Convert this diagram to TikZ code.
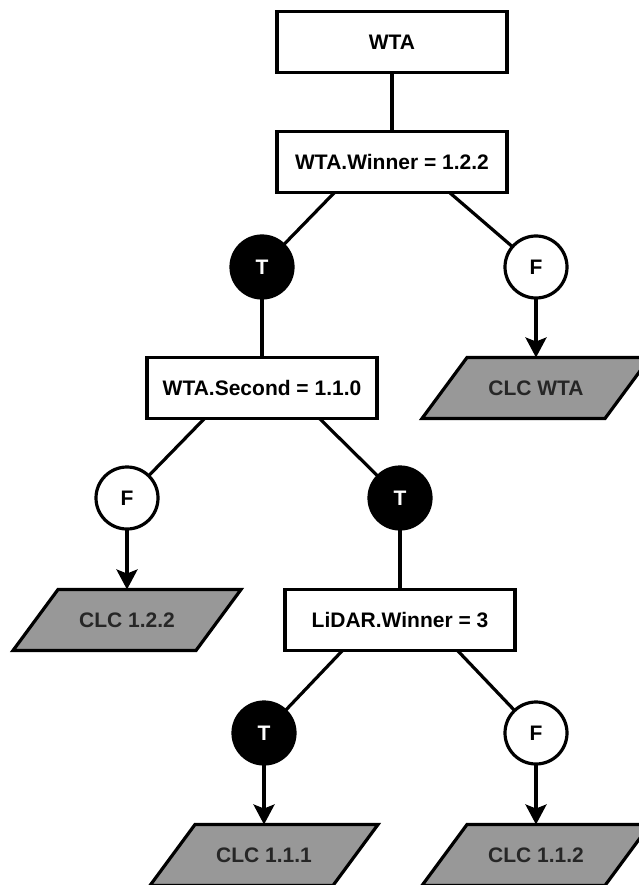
\documentclass[tikz,border=0pt]{standalone}
\usepackage{fontspec}
\setmainfont{Liberation Sans}
\usetikzlibrary{arrows.meta,calc,backgrounds}
\definecolor{clcgray}{RGB}{152,152,152}
\begin{document}
\begin{tikzpicture}[x=1pt,y=-1pt,
  every node/.style={font=\fontsize{21}{25}\selectfont\bfseries, inner sep=0pt, outer sep=0pt},
  condbox/.style={draw, line width=3.2pt, fill=white, minimum width=230, minimum height=61},
  tnode/.style={circle, draw, line width=3.2pt, fill=black, text=white, minimum size=62},
  fnode/.style={circle, draw, line width=3.2pt, fill=white, minimum size=62},
  clcnode/.style={minimum width=228, minimum height=61, text=black!85},
  link/.style={line width=3.2pt},
  arr/.style={line width=3.2pt, -{Stealth[length=20pt,width=21pt,inset=4pt]}},
  para/.style={draw, line width=3.2pt, fill=clcgray}
]
\useasboundingbox (0,0) rectangle (639,885);

\node[condbox] (wta) at (392,42) {WTA};
\node[condbox] (win) at (392,162) {WTA.Winner = 1.2.2};
\node[tnode] (t1) at (262,267) {T};
\node[fnode] (f1) at (536,267) {F};
\node[condbox] (sec) at (262,388) {WTA.Second = 1.1.0};
\node[clcnode] (clcwta) at (536,388) {CLC WTA};
\node[fnode] (f2) at (127,498) {F};
\node[tnode] (t2) at (400,498) {T};
\node[clcnode] (clc122) at (127,620) {CLC 1.2.2};
\node[condbox] (lidar) at (400,620) {LiDAR.Winner = 3};
\node[tnode] (t3) at (264,733) {T};
\node[fnode] (f3) at (536,733) {F};
\node[clcnode] (clc111) at (264,855) {CLC 1.1.1};
\node[clcnode] (clc112) at (536,855) {CLC 1.1.2};

\begin{scope}[on background layer]
  \foreach \n in {clcwta,clc122,clc111,clc112}{
    \draw[para] ([xshift=45pt]\n.north west) -- (\n.north east)
      -- ([xshift=-45pt]\n.south east) -- (\n.south west) -- cycle;
  }
\end{scope}

\draw[link] (wta) -- (win);
\coordinate (winL) at ($(win.south)!0.5!(win.south west)$);
\coordinate (winR) at ($(win.south)!0.5!(win.south east)$);
\draw[link] (winL) -- (t1);
\draw[link] (winR) -- (f1);
\draw[link] (t1) -- (sec);
\draw[arr] (f1) -- (clcwta.north);

\coordinate (secL) at ($(sec.south)!0.5!(sec.south west)$);
\coordinate (secR) at ($(sec.south)!0.5!(sec.south east)$);
\draw[link] (secL) -- (f2);
\draw[link] (secR) -- (t2);
\draw[arr] (f2) -- (clc122.north);
\draw[link] (t2) -- (lidar);

\coordinate (lidL) at ($(lidar.south)!0.5!(lidar.south west)$);
\coordinate (lidR) at ($(lidar.south)!0.5!(lidar.south east)$);
\draw[link] (lidL) -- (t3);
\draw[link] (lidR) -- (f3);
\draw[arr] (t3) -- (clc111.north);
\draw[arr] (f3) -- (clc112.north);
\end{tikzpicture}
\end{document}
